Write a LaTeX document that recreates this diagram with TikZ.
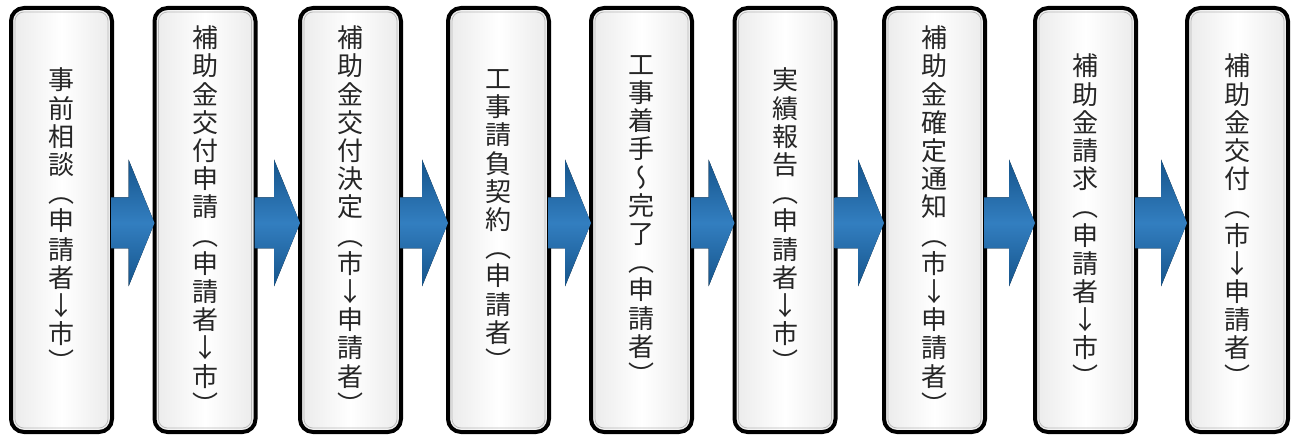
\documentclass[tikz,border=0pt]{standalone}
\usepackage{fontspec}
\newfontfamily\jpfont[RawFeature={+vert}]{Noto Sans CJK JP}
\usetikzlibrary{calc}

\definecolor{arrowblue}{RGB}{28,112,185}
\tikzset{
  stepbox/.style={draw=black, line width=4pt, rounded corners=13pt,
    minimum width=101pt, minimum height=424pt, inner sep=0pt,
    left color=gray!16, right color=gray!16, middle color=white,
    align=center, text=black!85, font=\jpfont\fontsize{26}{28.2}\selectfont,
    path picture={\draw[gray!55, line width=0.7pt, rounded corners=9pt]
      ([shift={(4pt,4pt)}]path picture bounding box.south west) rectangle
      ([shift={(-4pt,-4pt)}]path picture bounding box.north east);}},
  flowarrow/.style={top color=arrowblue!75!black, bottom color=arrowblue!75!black,
    middle color=arrowblue!90!white}
}

\begin{document}
\begin{tikzpicture}[x=1pt, y=1pt]
\useasboundingbox[fill=white] (0,0) rectangle (1292,439);
% steps
\node[stepbox] (b1) at (61.5,219) {事\\前\\相\\談\\（\\申\\請\\者\\↓\\市\\）};
\node[stepbox] (b2) at (205,219) {補\\助\\金\\交\\付\\申\\請\\（\\申\\請\\者\\↓\\市\\）};
\node[stepbox] (b3) at (350.5,219) {補\\助\\金\\交\\付\\決\\定\\（\\市\\↓\\申\\請\\者\\）};
\node[stepbox] (b4) at (498.5,219) {工\\事\\請\\負\\契\\約\\（\\申\\請\\者\\）};
\node[stepbox] (b5) at (641.5,219) {工\\事\\着\\手\\～\\完\\了\\（\\申\\請\\者\\）};
\node[stepbox] (b6) at (785,219) {実\\績\\報\\告\\（\\申\\請\\者\\↓\\市\\）};
\node[stepbox] (b7) at (934.5,219) {補\\助\\金\\確\\定\\通\\知\\（\\市\\↓\\申\\請\\者\\）};
\node[stepbox] (b8) at (1085.5,219) {補\\助\\金\\請\\求\\（\\申\\請\\者\\↓\\市\\）};
\node[stepbox] (b9) at (1237.5,219) {補\\助\\金\\交\\付\\（\\市\\↓\\申\\請\\者\\）};
% arrows
\foreach \a/\b in {b1/b2,b2/b3,b3/b4,b4/b5,b5/b6,b6/b7,b7/b8,b8/b9}
  \fill[flowarrow] ($(\a.east)+(-3,22.5)$) -- ($(\b.west)+(-24,22.5)$)
    -- ($(\b.west)+(-24,60.5)$) -- ($(\b.west)+(2,-3)$)
    -- ($(\b.west)+(-24,-66.5)$) -- ($(\b.west)+(-24,-28.5)$)
    -- ($(\a.east)+(-3,-28.5)$) -- cycle;
\end{tikzpicture}
\end{document}
